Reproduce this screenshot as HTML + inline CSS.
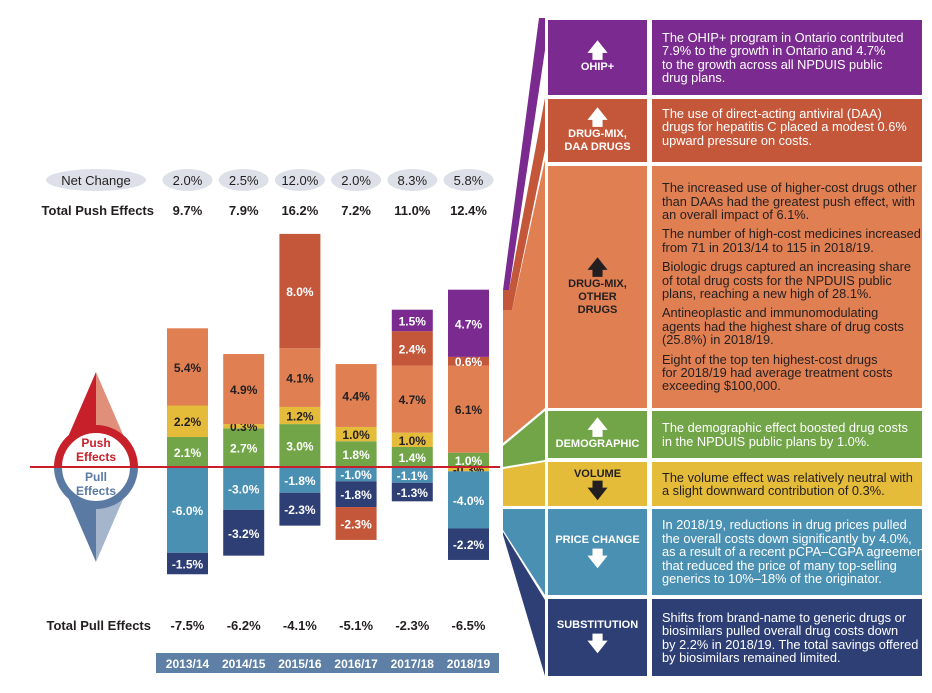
<!DOCTYPE html>
<html><head><meta charset="utf-8"><style>
body{margin:0;width:932px;height:693px;background:#fff;font-family:"Liberation Sans",sans-serif;overflow:hidden;position:relative}
.lab{position:absolute;left:548px;width:99px;color:#fff;font-weight:bold;font-size:11px;text-align:center;display:flex;flex-direction:column;align-items:center;justify-content:center;line-height:13px}
.txt{position:absolute;left:652px;width:260px;padding-left:10px;color:#fff;font-size:12.8px;line-height:13.4px;white-space:nowrap;overflow:hidden;display:flex;flex-direction:column;justify-content:center}
.txt p{margin:0 0 6px 0}.txt p:last-child{margin:0}
.dark{color:#231f20}
</style></head><body>
<svg id="chart" width="932" height="693" style="position:absolute;left:0;top:0" font-family="Liberation Sans, sans-serif">
  <g id="compass">
    <polygon points="96,372 55,467 96,467" fill="#c8202a"/>
    <polygon points="96,372 137,467 96,467" fill="#e0907a"/>
    <polygon points="96,562 55,467 96,467" fill="#5a7aa3"/>
    <polygon points="96,562 137,467 96,467" fill="#a5b5cc"/>
    <path d="M58,467 A38,38 0 0 1 134,467" fill="#fff" stroke="#c8202a" stroke-width="8"/>
    <path d="M58,467 A38,38 0 0 0 134,467" fill="#fff" stroke="#5a7aa3" stroke-width="8"/>
    <text x="96" y="447" text-anchor="middle" font-weight="bold" font-size="12" fill="#c8202a">Push</text>
    <text x="96" y="461" text-anchor="middle" font-weight="bold" font-size="12" fill="#c8202a">Effects</text>
    <text x="96" y="481" text-anchor="middle" font-weight="bold" font-size="12" fill="#5a7aa3">Pull</text>
    <text x="96" y="495" text-anchor="middle" font-weight="bold" font-size="12" fill="#5a7aa3">Effects</text>
  </g>
  <g id="bars"></g>
  <line x1="30" y1="467" x2="500" y2="467" stroke="#c8202a" stroke-width="2"/>
  <ellipse cx="96" cy="180" rx="50" ry="11" fill="#dde0e8"/>
  <text x="96" y="185" text-anchor="middle" font-size="13" fill="#231f20">Net Change</text>
  <text x="154" y="215" text-anchor="end" font-size="13" font-weight="bold" fill="#231f20">Total Push Effects</text>
  <text x="151" y="630" text-anchor="end" font-size="13" font-weight="bold" fill="#231f20">Total Pull Effects</text>
  <rect x="156" y="653" width="343" height="20" fill="#5e7fa6"/>
  <g id="funnel">
    <polygon points="539,18 545,18 545,50 509,290 503,290" fill="#7b2a8f"/>
    <polygon points="545,98 545,150 512,310 503,310 503,290 509,290" fill="#c4573a"/>
    <polygon points="545,160 545,408 503,443 503,310 512,310" fill="#e07f52"/>
    <polygon points="545,411 545,460 503,467 503,446" fill="#72a548"/>
    <polygon points="545,462 545,506 503,506 503,469" fill="#e5bb3a"/>
    <polygon points="545,509 545,595 503,530 503,509" fill="#4a90b2"/>
    <polygon points="545,600 545,676 503,535 503,532" fill="#2e3f75"/>
  </g>
</svg>

<div class="lab" style="top:20px;height:75px;background:#7b2a8f"><span style="font-size:20px;line-height:20px">&#129093;</span>OHIP+</div>
<div class="txt" style="top:20px;height:75px;background:#7b2a8f"><div>The OHIP+ program in Ontario contributed<br>7.9% to the growth in Ontario and 4.7%<br>to the growth across all NPDUIS public<br>drug plans.</div></div>

<div class="lab" style="top:99px;height:63px;background:#c4573a"><span style="font-size:20px;line-height:20px">&#129093;</span>DRUG-MIX,<br>DAA DRUGS</div>
<div class="txt" style="top:99px;height:55px;padding-top:8px;background:#c4573a;justify-content:flex-start"><div>The use of direct-acting antiviral (DAA)<br>drugs for hepatitis C placed a modest 0.6%<br>upward pressure on costs.</div></div>

<div class="lab dark" style="top:166px;height:242px;background:#e07f52"><span style="font-size:20px;line-height:20px">&#129093;</span>DRUG-MIX,<br>OTHER<br>DRUGS</div>
<div class="txt dark" style="top:166px;height:242px;background:#e07f52"><p>The increased use of higher-cost drugs other<br>than DAAs had the greatest push effect, with<br>an overall impact of 6.1%.</p><p>The number of high-cost medicines increased<br>from 71 in 2013/14 to 115 in 2018/19.</p><p>Biologic drugs captured an increasing share<br>of total drug costs for the NPDUIS public<br>plans, reaching a new high of 28.1%.</p><p>Antineoplastic and immunomodulating<br>agents had the highest share of drug costs<br>(25.8%) in 2018/19.</p><p>Eight of the top ten highest-cost drugs<br>for 2018/19 had average treatment costs<br>exceeding $100,000.</p></div>

<div class="lab" style="top:411px;height:47px;background:#72a548"><span style="font-size:20px;line-height:20px">&#129093;</span>DEMOGRAPHIC</div>
<div class="txt" style="top:411px;height:47px;background:#72a548"><div>The demographic effect boosted drug costs<br>in the NPDUIS public plans by 1.0%.</div></div>

<div class="lab dark" style="top:462px;height:44px;background:#e5bb3a">VOLUME<span style="font-size:20px;line-height:20px">&#129095;</span></div>
<div class="txt dark" style="top:462px;height:44px;background:#e5bb3a"><div>The volume effect was relatively neutral with<br>a slight downward contribution of 0.3%.</div></div>

<div class="lab" style="top:509px;height:86px;background:#4a90b2">PRICE CHANGE<span style="font-size:20px;line-height:24px">&#129095;</span></div>
<div class="txt" style="top:509px;height:86px;background:#4a90b2"><div>In 2018/19, reductions in drug prices pulled<br>the overall costs down significantly by 4.0%,<br>as a result of a recent pCPA–CGPA agreement<br>that reduced the price of many top-selling<br>generics to 10%–18% of the originator.</div></div>

<div class="lab" style="top:599px;height:77px;background:#2e3f75">SUBSTITUTION<span style="font-size:20px;line-height:24px">&#129095;</span></div>
<div class="txt" style="top:599px;height:77px;background:#2e3f75"><div>Shifts from brand-name to generic drugs or<br>biosimilars pulled overall drug costs down<br>by 2.2% in 2018/19. The total savings offered<br>by biosimilars remained limited.</div></div>

<script>
const years=["2013/14","2014/15","2015/16","2016/17","2017/18","2018/19"];
const netChange=["2.0%","2.5%","12.0%","2.0%","8.3%","5.8%"];
const totalPush=["9.7%","7.9%","16.2%","7.2%","11.0%","12.4%"];
const totalPull=["-7.5%","-6.2%","-4.1%","-5.1%","-2.3%","-6.5%"];
const demographic=[2.1,2.7,3.0,1.8,1.4,1.0];
const volume=[2.2,0.3,1.2,1.0,1.0,-0.3];
const drugMixOther=[5.4,4.9,4.1,4.4,4.7,6.1];
const drugMixDAA=[0,0,8.0,-2.3,2.4,0.6];
const ohip=[0,0,0,0,1.5,4.7];
const priceChange=[-6.0,-3.0,-1.8,-1.0,-1.1,-4.0];
const substitution=[-1.5,-3.2,-2.3,-1.8,-1.3,-2.2];

const NS="http://www.w3.org/2000/svg";
const svg=document.getElementById('chart');
const g=document.getElementById('bars');
const y0=467, pxPer=14.3;
function xPos(i){return 167+i*56.2;}
function yScale(v){return y0-v*pxPer;}
const series=[
 {name:'demographic',vals:demographic,fill:'#72a548',tc:'#fff'},
 {name:'volume',vals:volume,fill:'#e5bb3a',tc:'#231f20'},
 {name:'drug-mix-other',vals:drugMixOther,fill:'#e07f52',tc:'#231f20'},
 {name:'drug-mix-daa',vals:drugMixDAA,fill:'#c4573a',tc:'#fff'},
 {name:'ohip',vals:ohip,fill:'#7b2a8f',tc:'#fff'},
 {name:'price-change',vals:priceChange,fill:'#4a90b2',tc:'#fff'},
 {name:'substitution',vals:substitution,fill:'#2e3f75',tc:'#fff'}
];
const negOrder=[1,5,6,3];
function mk(tag,attrs){const e=document.createElementNS(NS,tag);for(const k in attrs)e.setAttribute(k,attrs[k]);return e;}
function txt(parent,x,y,s,opts){const t=mk('text',Object.assign({x:x,y:y,'text-anchor':'middle','font-size':13},opts||{}));t.textContent=s;parent.appendChild(t);return t;}
years.forEach((yr,i)=>{
  const x=xPos(i), w=41, cx=x+w/2;
  let pos=0;
  series.forEach(s=>{
    const v=s.vals[i]; if(v<=0) return;
    const r=mk('rect',{x:x,y:yScale(pos+v),width:w,height:v*pxPer,fill:s.fill});
    
    
    g.appendChild(r);
    const t=txt(g,cx,yScale(pos+v/2)+5,v.toFixed(1)+'%',{'font-weight':'bold',fill:s.tc,'font-size':12});
    
    
    pos+=v;
  });
  let neg=0;
  negOrder.forEach(k=>{
    const s=series[k]; const v=s.vals[i]; if(v>=0) return;
    const r=mk('rect',{x:x,y:yScale(neg),width:w,height:-v*pxPer,fill:s.fill});
    
    
    g.appendChild(r);
    const t=txt(g,cx,yScale(neg+v/2)+5,v.toFixed(1)+'%',{'font-weight':'bold',fill:s.tc,'font-size':12});
    
    
    neg+=v;
  });
  const pill=mk('ellipse',{cx:cx,cy:180,rx:25,ry:11,fill:'#dde0e8'});
  
  
  svg.appendChild(pill);
  const nt=txt(svg,cx,185,netChange[i],{fill:'#231f20'});
  
  
  const pt=txt(svg,cx,215,totalPush[i],{fill:'#231f20','font-weight':'bold'});
  
  
  const lt=txt(svg,cx,630,totalPull[i],{fill:'#231f20','font-weight':'bold'});
  
  
  const yt=txt(svg,cx,668,yr,{fill:'#fff','font-weight':'bold','font-size':12});
  
  
});
</script>
</body></html>
